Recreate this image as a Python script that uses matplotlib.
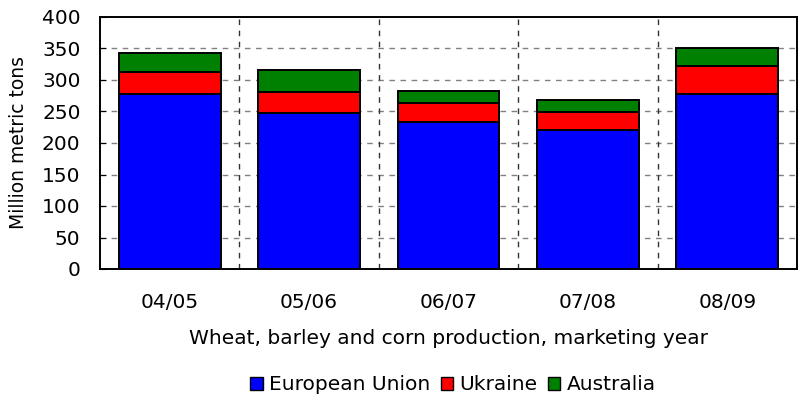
import numpy as np
import matplotlib
matplotlib.use("Agg")
import matplotlib.pyplot as plt
from matplotlib.patches import Patch

plt.rcParams['font.family'] = ['DejaVu Sans']

years = ["04/05", "05/06", "06/07", "07/08", "08/09"]
eu = [277, 247, 234, 221, 277]
ukraine = [36, 34, 30, 28, 46]
australia = [30, 35, 18, 20, 28]

fig = plt.figure(figsize=(8.01, 4.01), dpi=100)
ax = fig.add_axes([100/801, 1-269/401, 697/801, 252/401])

x = np.arange(len(years))
w = 0.73
eu = np.array(eu)
ukraine = np.array(ukraine)
australia = np.array(australia)
ax.bar(x, eu, w, color="#0000ff", edgecolor="black", linewidth=1.4, zorder=3)
ax.bar(x, ukraine, w, bottom=eu, color="#ff0000", edgecolor="black", linewidth=1.4, zorder=3)
ax.bar(x, australia, w, bottom=eu + ukraine, color="#008000", edgecolor="black", linewidth=1.4, zorder=3)

ax.set_xlim(-0.5, len(years) - 0.5)
ax.set_ylim(0, 400)
ax.set_yticks(np.arange(0, 401, 50))
ax.set_xticks(x)
ax.set_xticklabels(years, fontsize=14.5)
ax.tick_params(axis="y", direction="in", length=4, labelsize=14.5, pad=14)
ax.tick_params(axis="x", length=0, pad=17)

for yv in np.arange(50, 400, 50):
    ax.axhline(yv, color="#808080", linestyle=(0, (4, 4)), linewidth=1, zorder=1)
for xv in x[:-1] + 0.5:
    ax.axvline(xv, color="#333333", linestyle=(0, (4, 4)), linewidth=1, zorder=1)

for s in ax.spines.values():
    s.set_linewidth(1.4)

ax.set_ylabel("Million metric tons", fontsize=13.5)
ax.yaxis.set_label_coords(-0.103, 0.5)
ax.set_xlabel("Wheat, barley and corn production, marketing year", fontsize=14.5, labelpad=12.5)

handles = [Patch(facecolor=c, edgecolor="black") for c in ["#0000ff", "#ff0000", "#008000"]]
fig.legend(handles, ["European Union", "Ukraine", "Australia"], loc="center",
           bbox_to_anchor=(453/801, 1-385/401), ncol=3, frameon=False, fontsize=14.5,
           handlelength=0.6, handleheight=0.6, handletextpad=0.3, columnspacing=0.55)

fig.savefig("out.png", dpi=100)
